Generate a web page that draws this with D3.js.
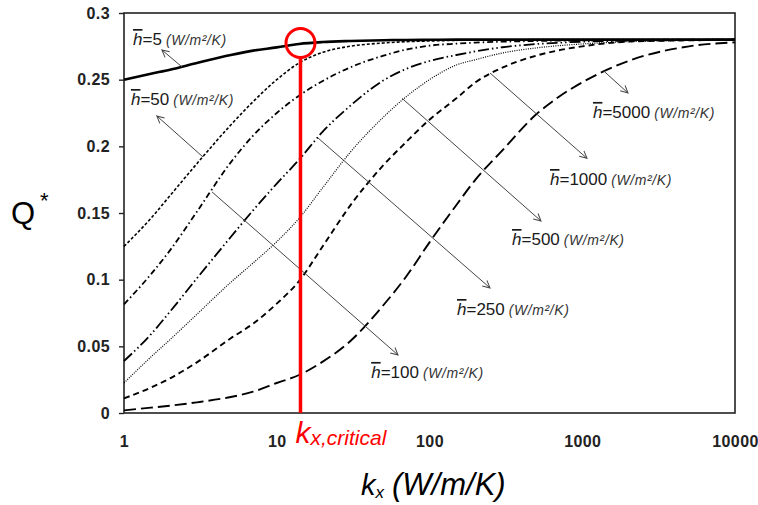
<!DOCTYPE html>
<html>
<head>
<meta charset="utf-8">
<script src="https://cdn.jsdelivr.net/npm/d3@7"></script>
<style>
  body { margin: 0; background: #fff; }
  svg { display: block; }
  .tick-lbl { font-family: "Liberation Sans", Arial, sans-serif; font-weight: bold; font-size: 16px; fill: #222; letter-spacing: 0.4px; }
</style>
</head>
<body>
<svg id="chart" width="758" height="505"></svg>
<script>
// k_x values
const kGrid = [1, 1.5, 2, 3, 5, 7, 10, 14, 20, 30, 50, 70, 100, 150, 200, 300, 500, 700, 1000, 2000, 5000, 10000];

// Q* for each h (W/m2/K)
const q5    = [0.250, 0.2545, 0.2575, 0.2625, 0.2685, 0.2718, 0.2742, 0.2768, 0.2782, 0.279, 0.2796, 0.2798, 0.2799, 0.28, 0.28, 0.28, 0.28, 0.28, 0.28, 0.28, 0.28, 0.28];
const q50   = [0.125, 0.146, 0.163, 0.187, 0.216, 0.2335, 0.25, 0.2625, 0.2705, 0.275, 0.2775, 0.2785, 0.279, 0.2795, 0.2797, 0.2799, 0.28, 0.28, 0.28, 0.28, 0.28, 0.28];
const q100  = [0.0815, 0.104, 0.122, 0.151, 0.188, 0.208, 0.225, 0.238, 0.249, 0.259, 0.268, 0.2725, 0.2755, 0.277, 0.2778, 0.2785, 0.279, 0.2793, 0.2795, 0.2798, 0.28, 0.28];
const q250  = [0.039, 0.059, 0.076, 0.101, 0.132, 0.152, 0.172, 0.19, 0.211, 0.23, 0.2495, 0.258, 0.264, 0.2685, 0.2712, 0.2743, 0.2767, 0.2777, 0.2785, 0.2792, 0.2798, 0.28];
const q500  = [0.0225, 0.042, 0.055, 0.074, 0.098, 0.1125, 0.1285, 0.146, 0.169, 0.195, 0.222, 0.237, 0.25, 0.261, 0.265, 0.27, 0.2738, 0.2755, 0.2768, 0.2785, 0.2795, 0.28];
const q1000 = [0.011, 0.019, 0.026, 0.038, 0.056, 0.067, 0.082, 0.099, 0.125, 0.155, 0.186, 0.203, 0.22, 0.236, 0.248, 0.259, 0.268, 0.272, 0.275, 0.2785, 0.2795, 0.28];
const q5000 = [0.002, 0.004, 0.0055, 0.008, 0.012, 0.016, 0.0225, 0.0285, 0.0385, 0.0535, 0.081, 0.102, 0.128, 0.156, 0.175, 0.197, 0.224, 0.237, 0.248, 0.264, 0.275, 0.278];

const hValues = ["5", "50", "100", "250", "500", "1000", "5000"];
const series = [q5, q50, q100, q250, q500, q1000, q5000];

// annotation arrows (from curve to label) and label anchors, in data units
const arrowFromK = [2.40, 3.29, 3.77, 18.6, 66.1, 249, 1367];
const arrowFromQ = [0.2595, 0.192, 0.1658, 0.2063, 0.236, 0.255, 0.257];
const arrowToK   = [1.77, 1.64, 62.2, 249, 537, 1074, 1993];
const arrowToQ   = [0.2723, 0.2228, 0.0435, 0.0938, 0.144, 0.191, 0.240];
const labelK     = [1.146, 1.11, 41.5, 151.4, 347, 615, 1175];
const labelQ     = [0.276, 0.231, 0.0263, 0.0735, 0.126, 0.171, 0.2213];

// critical conductivity marker
const kCritical = 14.3;
const qCritical = 0.2775;

const xTicks = [1, 10, 100, 1000, 10000];
const xTickLabels = ["1", "10", "100", "1000", "10000"];
const yTicks = [0, 0.05, 0.1, 0.15, 0.2, 0.25, 0.3];
const yTickLabels = ["0", "0.05", "0.1", "0.15", "0.2", "0.25", "0.3"];

// line styles per curve
const dashes = [null, "3,2", "6,3,1.5,3", "11,3,1.5,3,1.5,3", "1,1.3", "6,4", "12,5"];
const widths = [2.6, 1.6, 1.8, 1.8, 1.2, 1.9, 1.9];

const plotL = 124, plotR = 735, plotT = 13, plotB = 413;

const svg = d3.select("#chart");

const x = d3.scaleLog().domain([1, 10000]).range([plotL, plotR]);
const y = d3.scaleLinear().domain([0, 0.3]).range([plotB, plotT]);

// y axis
const yAxis = d3.axisLeft(y)
    .tickValues(yTicks)
    .tickFormat((d, i) => yTickLabels[i])
    .tickSize(5)
    .tickPadding(9);
const gy = svg.append("g")
    .attr("transform", `translate(${plotL},0)`)
    .call(yAxis);
gy.select(".domain").remove();
gy.selectAll("line").attr("stroke", "#222").attr("stroke-width", 1.4);
gy.selectAll("text").attr("class", "tick-lbl");

// x axis (labels only)
const xAxis = d3.axisBottom(x)
    .tickValues(xTicks)
    .tickFormat((d, i) => xTickLabels[i])
    .tickSize(0)
    .tickPadding(23);
const gx = svg.append("g")
    .attr("transform", `translate(0,${plotB})`)
    .call(xAxis);
gx.select(".domain").remove();
gx.selectAll("text").attr("class", "tick-lbl");

// plot frame
svg.append("rect")
    .attr("x", plotL)
    .attr("y", plotT)
    .attr("width", plotR - plotL)
    .attr("height", plotB - plotT)
    .attr("fill", "none")
    .attr("stroke", "#222")
    .attr("stroke-width", 1.6);

// curves
const line = d3.line()
    .x(d => x(d[0]))
    .y(d => y(d[1]))
    .curve(d3.curveMonotoneX);

series.forEach((vals, i) => {
    const pts = kGrid.map((k, j) => [k, vals[j]]);
    svg.append("path")
        .datum(pts)
        .attr("fill", "none")
        .attr("stroke", "#000")
        .attr("stroke-width", widths[i])
        .attr("stroke-dasharray", dashes[i])
        .attr("d", line);
});

// arrow marker
svg.append("defs").append("marker")
    .attr("id", "arr")
    .attr("viewBox", "0 0 10 10")
    .attr("refX", 9)
    .attr("refY", 5)
    .attr("markerWidth", 9)
    .attr("markerHeight", 9)
    .attr("markerUnits", "userSpaceOnUse")
    .attr("orient", "auto")
    .append("path")
    .attr("d", "M1,1 L9,5 L1,9")
    .attr("fill", "none")
    .attr("stroke", "#444")
    .attr("stroke-width", 1.1);

// annotation arrows
hValues.forEach((h, i) => {
    svg.append("line")
        .attr("x1", x(arrowFromK[i]))
        .attr("y1", y(arrowFromQ[i]))
        .attr("x2", x(arrowToK[i]))
        .attr("y2", y(arrowToQ[i]))
        .attr("stroke", "#444")
        .attr("stroke-width", 1)
        .attr("marker-end", "url(#arr)");
});

// labels h=... (W/m2/K)
hValues.forEach((h, i) => {
    const t = svg.append("text")
        .attr("x", x(labelK[i]))
        .attr("y", y(labelQ[i]))
        .attr("font-family", "Liberation Sans, Arial, sans-serif")
        .attr("fill", "#1a1a1a");
    t.append("tspan")
        .attr("font-size", 17)
        .attr("font-style", "italic")
        .style("text-decoration", "overline")
        .text("h");
    t.append("tspan")
        .attr("font-size", 17)
        .text("=" + h);
    t.append("tspan")
        .attr("font-size", 14)
        .attr("font-style", "italic")
        .attr("dx", 4)
        .attr("letter-spacing", 0.6)
        .attr("fill", "#333")
        .text("(W/m\u00B2/K)");
});

// critical k marker
svg.append("line")
    .attr("x1", x(kCritical))
    .attr("x2", x(kCritical))
    .attr("y1", y(qCritical) + 15)
    .attr("y2", plotB)
    .attr("stroke", "#ff0000")
    .attr("stroke-width", 3.5);
svg.append("circle")
    .attr("cx", x(kCritical))
    .attr("cy", y(qCritical))
    .attr("r", 14.5)
    .attr("fill", "none")
    .attr("stroke", "#ff0000")
    .attr("stroke-width", 3);

const crit = svg.append("text")
    .attr("x", x(kCritical) - 5)
    .attr("y", 443)
    .attr("font-family", "Liberation Sans, Arial, sans-serif")
    .attr("font-style", "italic")
    .attr("fill", "#ff0000");
crit.append("tspan").attr("font-size", 30).text("k");
crit.append("tspan").attr("font-size", 21).attr("dy", 2).text("x,critical");

// axis titles
svg.append("text")
    .attr("x", 11)
    .attr("y", 224)
    .attr("font-family", "Liberation Sans, Arial, sans-serif")
    .attr("font-size", 31)
    .attr("fill", "#000")
    .text("Q");
svg.append("text")
    .attr("x", 40)
    .attr("y", 208)
    .attr("font-family", "Liberation Sans, Arial, sans-serif")
    .attr("font-size", 22)
    .attr("fill", "#000")
    .text("*");

const xt = svg.append("text")
    .attr("x", 361)
    .attr("y", 495)
    .attr("font-family", "Liberation Sans, Arial, sans-serif")
    .attr("font-style", "italic")
    .attr("fill", "#000");
xt.append("tspan").attr("font-size", 29).text("k");
xt.append("tspan").attr("font-size", 17).attr("dy", 3).text("x");
xt.append("tspan").attr("font-size", 31).attr("dy", -3).attr("dx", 8).text("(W/m/K)");
</script>
</body>
</html>
